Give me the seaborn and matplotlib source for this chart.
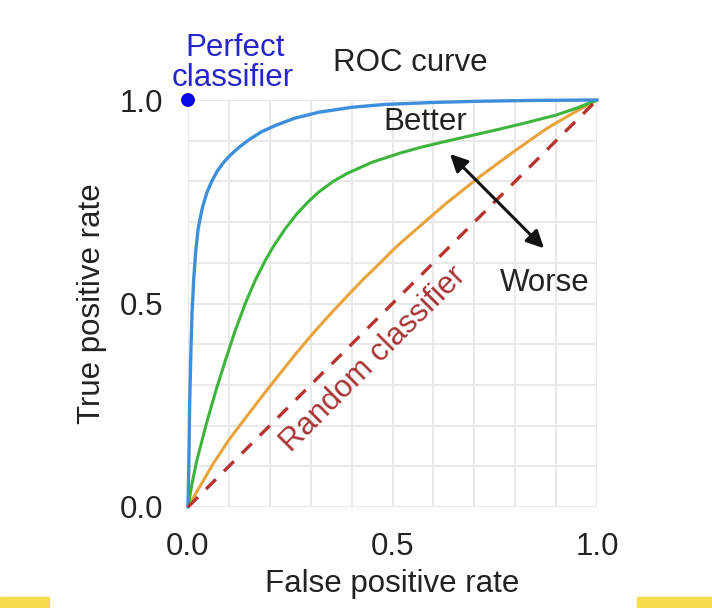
import matplotlib
matplotlib.use("Agg")
import matplotlib.pyplot as plt
import seaborn as sns
import pandas as pd
from matplotlib.patches import Rectangle, FancyArrowPatch

# ---- data ----
blue_fpr = [0.0, 0.002, 0.004, 0.007, 0.010, 0.014, 0.019, 0.025, 0.035, 0.046, 0.058, 0.072, 0.088, 0.105, 0.125, 0.150, 0.180, 0.215, 0.260, 0.320, 0.400, 0.480, 0.600, 0.714, 0.850, 1.0]
blue_tpr = [0.0, 0.10, 0.25, 0.38, 0.48, 0.56, 0.63, 0.685, 0.735, 0.772, 0.800, 0.826, 0.848, 0.866, 0.884, 0.903, 0.922, 0.938, 0.955, 0.970, 0.982, 0.989, 0.994, 0.997, 0.999, 1.0]

green_fpr = [0.0, 0.010, 0.021, 0.045, 0.070, 0.092, 0.115, 0.140, 0.164, 0.188, 0.210, 0.238, 0.266, 0.295, 0.320, 0.355, 0.390, 0.450, 0.520, 0.570, 0.620, 0.690, 0.760, 0.830, 0.900, 0.950, 1.0]
green_tpr = [0.0, 0.058, 0.112, 0.205, 0.292, 0.362, 0.432, 0.500, 0.556, 0.604, 0.642, 0.684, 0.720, 0.751, 0.774, 0.800, 0.820, 0.847, 0.870, 0.884, 0.896, 0.912, 0.928, 0.945, 0.963, 0.980, 1.0]

orange_fpr = [0.0, 0.030, 0.062, 0.100, 0.143, 0.185, 0.225, 0.265, 0.306, 0.347, 0.388, 0.428, 0.469, 0.510, 0.551, 0.630, 0.714, 0.795, 0.877, 0.940, 1.0]
orange_tpr = [0.0, 0.052, 0.107, 0.165, 0.222, 0.277, 0.328, 0.378, 0.427, 0.473, 0.517, 0.559, 0.599, 0.640, 0.676, 0.745, 0.812, 0.872, 0.930, 0.967, 1.0]

random_fpr = [0.0, 1.0]
random_tpr = [0.0, 1.0]

perfect_fpr = [0.0]
perfect_tpr = [1.0]

tick_vals = [0.0, 0.5, 1.0]
tick_labels = ["0.0", "0.5", "1.0"]

# ---- figure ----
sns.set_theme(style="white")
plt.rcParams['font.family'] = ['Liberation Sans', 'DejaVu Sans']
FS = 22.5

fig = plt.figure(figsize=(7.12, 6.08), dpi=100)
ax = fig.add_axes([188/712, 1-507/608, (597-188)/712, (507-100)/608])

df_blue = pd.DataFrame({"fpr": blue_fpr, "tpr": blue_tpr})
df_green = pd.DataFrame({"fpr": green_fpr, "tpr": green_tpr})
df_orange = pd.DataFrame({"fpr": orange_fpr, "tpr": orange_tpr})
df_rand = pd.DataFrame({"fpr": random_fpr, "tpr": random_tpr})

sns.lineplot(data=df_orange, x="fpr", y="tpr", sort=False, estimator=None, ax=ax,
             color="#E8A33A", lw=2.2, clip_on=False, zorder=3)
sns.lineplot(data=df_rand, x="fpr", y="tpr", sort=False, estimator=None, ax=ax,
             color="#B83232", lw=2.4, clip_on=False, zorder=4)
ax.lines[-1].set_linestyle((0, (4.2, 3.4)))
sns.lineplot(data=df_green, x="fpr", y="tpr", sort=False, estimator=None, ax=ax,
             color="#3DB53D", lw=2.2, clip_on=False, zorder=3)
sns.lineplot(data=df_blue, x="fpr", y="tpr", sort=False, estimator=None, ax=ax,
             color="#3D8FDB", lw=2.4, clip_on=False, zorder=3)
sns.scatterplot(x=perfect_fpr, y=perfect_tpr, ax=ax, color="#0A0AE6", s=100,
                edgecolor="none", clip_on=False, zorder=6)

ax.set_xlim(0, 1)
ax.set_ylim(0, 1)
ax.set_xticks(tick_vals)
ax.set_xticklabels(tick_labels)
ax.set_yticks(tick_vals)
ax.set_yticklabels(tick_labels)
ax.set_xticks([i / 10 for i in range(11)], minor=True)
ax.set_yticks([i / 10 for i in range(11)], minor=True)
ax.grid(True, which="both", color="#e9e9e9", lw=1.5)
ax.set_axisbelow(True)
for s in ax.spines.values():
    s.set_visible(False)
ax.tick_params(which="both", length=0, labelsize=FS, colors="#222222")
ax.tick_params(axis="x", pad=18)
ax.tick_params(axis="y", pad=18)
ax.set_xlabel("False positive rate", fontsize=FS, color="#222222", labelpad=5)
ax.set_ylabel("True positive rate", fontsize=FS, color="#222222", labelpad=9)

# annotations
ax.text(0.115, 1.128, "Perfect", ha="center", va="center",
        fontsize=FS, color="#2626C8", clip_on=False)
ax.text(0.110, 1.054, "classifier", ha="center", va="center",
        fontsize=FS, color="#2626C8", clip_on=False)
ax.text(0.543, 1.092, "ROC curve", ha="center", va="center", fontsize=FS, color="#222222", clip_on=False)
ax.text(0.579, 0.946, "Better", ha="center", va="center", fontsize=FS, color="#222222")
ax.text(0.873, 0.550, "Worse", ha="center", va="center", fontsize=FS, color="#222222")
ax.text(0.452, 0.362, "Random classifier", ha="center", va="center", rotation=45,
        rotation_mode="anchor", fontsize=FS, color="#A83535")
arrow = FancyArrowPatch((0.636, 0.872), (0.875, 0.631), arrowstyle="<|-|>",
                        mutation_scale=26, color="#111111", lw=2.2, zorder=7)
ax.add_patch(arrow)

# decorative yellow bars at bottom edge
fig.patches.append(Rectangle((0, 0), 49/712, 11/608, transform=fig.transFigure,
                             color="#F9DC4E", zorder=0))
fig.patches.append(Rectangle((637/712, 0), 75/712, 11/608, transform=fig.transFigure,
                             color="#F9DC4E", zorder=0))

fig.savefig("out.png", dpi=100)
